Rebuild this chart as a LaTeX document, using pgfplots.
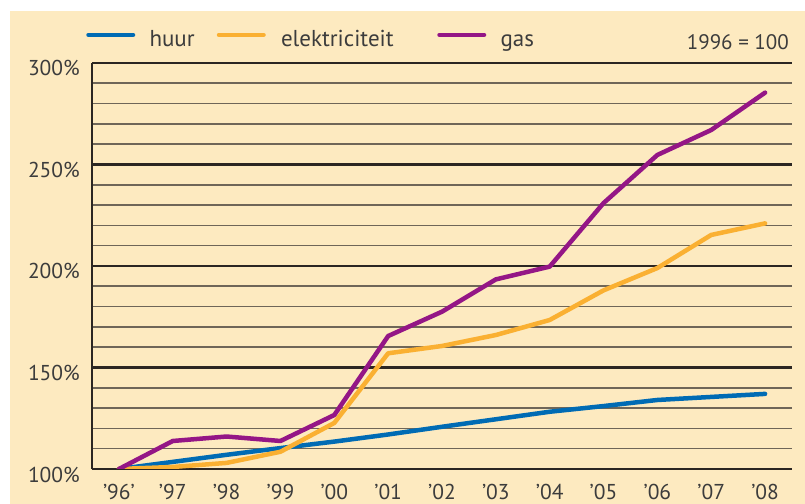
\documentclass[border=0pt]{standalone}
\usepackage{fontspec}
\setmainfont{PT Sans}
\usepackage{pgfplots}
\usepackage{pgfplotstable}
\pgfplotsset{compat=1.18}
\definecolor{cream}{HTML}{FDEAC0}
\definecolor{huurblue}{HTML}{006BB4}
\definecolor{elekorange}{HTML}{FAB032}
\definecolor{gaspurple}{HTML}{941686}
\definecolor{txt}{HTML}{3C3C3C}
\definecolor{majgrid}{HTML}{2B2622}
\definecolor{mingrid}{HTML}{6F6658}
\pgfplotstableread{
x huur elek gas
0 100 100 100
1 103.5 101 113.8
2 107 103 116
3 110.3 108.5 113.8
4 113.5 122.7 126.6
5 117 157 165.5
6 120.8 160.6 177.5
7 124.5 166 193.4
8 128.2 173.4 199.7
9 131 188 231
10 134 199 254.7
11 135.5 215.3 267
12 137 221 285.4
}\datatable
\begin{document}
\begin{tikzpicture}
\fill[white] (0,0) rectangle (805bp,504bp);
\fill[cream] (10bp,0) rectangle (805bp,493bp);
\begin{axis}[
  at={(92bp,35bp)}, anchor=south west,
  scale only axis, width=700bp, height=406bp,
  xmin=-0.5, xmax=12.5, ymin=100, ymax=300,
  axis lines*=left,
  x axis line style={draw=none},
  y axis line style={line width=2.2bp, color=majgrid, -},
  xtick={0,...,12},
  xticklabels={’96’,’97,’98,’99,’00,’01,’02,’03,’04,’05,’06,’07,’08},
  ytick={100,150,200,250,300},
  yticklabels={100\%,150\%,200\%,250\%,300\%},
  minor ytick={110,120,130,140,160,170,180,190,210,220,230,240,260,270,280,290},
  major tick length=0pt, minor tick length=0pt,
  ymajorgrids, yminorgrids,
  major grid style={line width=2.2bp, color=majgrid},
  minor grid style={line width=1.6bp, color=mingrid},
  /pgf/number format/assume math mode=true,
  ticklabel style={font=\fontsize{21.5bp}{25bp}\selectfont, text=txt, inner sep=0pt},
  yticklabel style={anchor=base east, xshift=-12bp, yshift=-13bp},
  xticklabel style={anchor=base, yshift=-30bp, text depth=0pt},
  legend columns=3,
  legend style={at={(rel axis cs:-0.0114,1.080)}, anchor=north west, draw=none, fill=none,
    inner sep=0pt, outer sep=0pt,
    nodes={inner sep=0pt, anchor=base west, font=\fontsize{23bp}{27bp}\selectfont, text=txt},
    /tikz/every even column/.append style={column sep=0pt}},
  legend image code/.code={\path (0bp,12bp) (49bp,12bp); \draw[#1, line width=4.5bp, line cap=round] (2.25bp,12bp) -- (46.75bp,12bp);},
  every axis plot/.append style={line width=4.5bp, line join=round, line cap=round},
]
\addplot[huurblue] table[x=x, y=huur] {\datatable};
\addlegendentry{\makebox[77bp][l]{\hspace{12bp}huur}}
\addplot[elekorange] table[x=x, y=elek] {\datatable};
\addlegendentry{\makebox[167bp][l]{\hspace{13bp}elektriciteit}}
\addplot[gaspurple] table[x=x, y=gas] {\datatable};
\addlegendentry{\hspace{12bp}gas}
\end{axis}
\node[anchor=base east, inner sep=0pt, font=\fontsize{21bp}{25bp}\selectfont, text=txt] at (789bp,454.7bp) {1996 = 100};
\end{tikzpicture}
\end{document}
